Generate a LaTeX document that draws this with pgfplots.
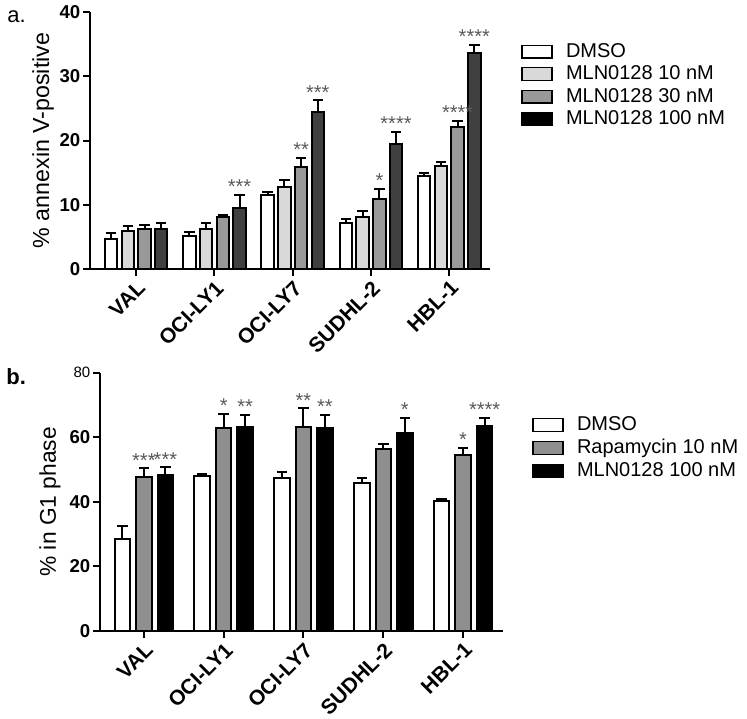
\documentclass[border=0pt]{standalone}
\usepackage{fontspec}
\setmainfont{Liberation Sans}
\usepackage{pgfplots}
\pgfplotsset{compat=1.18}
\definecolor{cA}{HTML}{FFFFFF}
\definecolor{cB}{HTML}{D9D9D9}
\definecolor{cC}{HTML}{999999}
\definecolor{cD}{HTML}{404040}
\definecolor{rapa}{HTML}{8F8F8F}
\definecolor{star}{HTML}{5A5A5A}
\pgfplotsset{
  common/.style={
    scale only axis,
    axis x line*=bottom, axis y line*=left,
    axis line style={-, line width=1pt, black},
    tick align=outside,
    major tick length=3.5pt,
    every tick/.style={line width=1pt, black},
    ymin=0,
    xtick={0,1,2,3,4},
    xticklabels={VAL,OCI-LY1,OCI-LY7,SUDHL-2,HBL-1},
    xticklabel style={rotate=45, anchor=north east, font=\bfseries\fontsize{10.5}{10.5}\selectfont, inner sep=1pt},
    yticklabel style={font=\bfseries\fontsize{9.3}{9.3}\selectfont, inner sep=1.2pt},
    /pgf/number format/assume math mode=true,
    legend cell align=left,
    every axis plot/.append style={draw=black, line width=1pt},
    error bars/y dir=plus,
    error bars/y explicit,
    error bars/error bar style={line width=1pt, black},
    error bars/error mark options={rotate=90, line width=1pt, mark size=2.6pt, black},
  },
  lg/.style={legend image code/.code={\draw[##1, line width=0.6pt] (0pt,-3.2pt) rectangle (15pt,3.2pt); \path (21pt,0pt);}},
}
\newcommand{\sig}[4]{\node[anchor=base, text=star, font=\fontsize{10}{10}\selectfont, inner sep=0pt, xshift=#3, yshift=0.6pt] at (axis cs:#1,#2) {#4};}
\begin{document}
\begin{tikzpicture}
\useasboundingbox (0,0) rectangle (373.5pt,-359pt);
\node[anchor=base west, font=\fontsize{11}{11}\selectfont, inner sep=0pt] at (3.5pt,-11pt) {a.};
\node[anchor=base west, font=\bfseries\fontsize{11}{11}\selectfont, inner sep=0pt] at (3pt,-192pt) {b.};

\begin{axis}[common,
  at={(45pt,-134.5pt)}, anchor=south west,
  width=200pt, height=128.5pt,
  xmin=-0.59, xmax=4.52, ymax=40,
  ytick={0,10,20,30,40},
  ybar, bar width=6.2pt,
  ylabel={\% annexin V-positive},
  ylabel style={at={(axis description cs:-0.1175,0.5)}, anchor=center, font=\fontsize{11.6}{11.6}\selectfont},
  legend style={at={(1.0775,0.888)}, anchor=north west, draw=none, fill=none, inner sep=0pt, row sep=0.75pt,
    font=\fontsize{10}{10}\selectfont, nodes={inner sep=0.5pt, text height=7.5pt, text depth=2pt}},
]
\addlegendimage{lg, fill=white, draw=black}
\addlegendentry{DMSO}
\addlegendimage{lg, fill=cB, draw=black}
\addlegendentry{MLN0128 10 nM}
\addlegendimage{lg, fill=cC, draw=black}
\addlegendentry{MLN0128 30 nM}
\addlegendimage{lg, fill=black, draw=black}
\addlegendentry{MLN0128 100 nM}
\addplot[fill=cA, forget plot, bar shift=-12.525pt] table[x=x, y=y, y error=e] {
x y e
0 4.7 0.9
1 5.1 0.6
2 11.5 0.5
3 7.1 0.7
4 14.5 0.5
};
\addplot[fill=cB, forget plot, bar shift=-4.175pt] table[x=x, y=y, y error=e] {
x y e
0 5.9 0.85
1 6.3 0.8
2 12.8 1.0
3 8.15 0.85
4 16.05 0.55
};
\addplot[fill=cC, forget plot, bar shift=4.175pt] table[x=x, y=y, y error=e] {
x y e
0 6.3 0.6
1 8.05 0.35
2 15.9 1.4
3 10.85 1.65
4 22.1 1.0
};
\addplot[fill=cD, forget plot, bar shift=12.525pt] table[x=x, y=y, y error=e] {
x y e
0 6.2 0.9
1 9.45 2.05
2 24.5 1.75
3 19.4 2.0
4 33.6 1.3
};
\sig{1}{11.5}{12.5pt}{***}
\sig{2}{17.3}{4.2pt}{**}
\sig{2}{26.25}{12.5pt}{***}
\sig{3}{12.5}{4.2pt}{*}
\sig{3}{21.4}{12.5pt}{****}
\sig{4}{23.1}{4.2pt}{****}
\sig{4}{34.9}{12.5pt}{****}
\end{axis}

\begin{axis}[common,
  at={(50pt,-315.5pt)}, anchor=south west,
  width=201.5pt, height=129.2pt,
  xmin=-0.55, xmax=4.5, ymax=80,
  ytick={0,20,40,60,80},
  yticklabels={0,20,40,60,{\mdseries\fontsize{7.5}{7.5}\selectfont 80}},
  ybar, bar width=7.8pt,
  ylabel={\% in G1 phase},
  ylabel style={at={(axis description cs:-0.124,0.5)}, anchor=center, font=\fontsize{11.4}{11.4}\selectfont},
  legend style={at={(1.072,0.840)}, anchor=north west, draw=none, fill=none, inner sep=0pt, row sep=1pt,
    font=\fontsize{10}{10}\selectfont, nodes={inner sep=0.5pt, text height=7.5pt, text depth=2pt}},
]
\addlegendimage{lg, fill=white, draw=black}
\addlegendentry{DMSO}
\addlegendimage{lg, fill=rapa, draw=black}
\addlegendentry{Rapamycin 10 nM}
\addlegendimage{lg, fill=black, draw=black}
\addlegendentry{MLN0128 100 nM}
\addplot[fill=cA, forget plot, bar shift=-10.75pt] table[x=x, y=y, y error=e] {
x y e
0 28.4 4.2
1 48.1 0.4
2 47.5 1.7
3 45.8 1.6
4 40.4 0.5
};
\addplot[fill=rapa, forget plot, bar shift=0pt] table[x=x, y=y, y error=e] {
x y e
0 47.8 2.6
1 62.8 4.5
2 63.3 5.6
3 56.5 1.5
4 54.5 2.2
};
\addplot[fill=black, forget plot, bar shift=10.75pt] table[x=x, y=y, y error=e] {
x y e
0 48.3 2.4
1 63.3 3.7
2 62.9 4.1
3 61.3 4.8
4 63.5 2.6
};
\sig{0}{50.4}{0pt}{***}
\sig{0}{50.7}{10.75pt}{***}
\sig{1}{67.3}{0pt}{*}
\sig{1}{67.0}{10.75pt}{**}
\sig{2}{68.9}{0pt}{**}
\sig{2}{67.0}{10.75pt}{**}
\sig{3}{66.1}{10.75pt}{*}
\sig{4}{56.7}{0pt}{*}
\sig{4}{66.1}{10.75pt}{****}
\end{axis}
\end{tikzpicture}
\end{document}
